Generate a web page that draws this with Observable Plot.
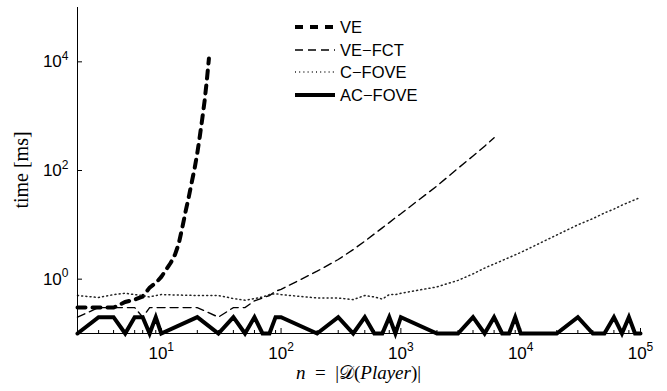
<!DOCTYPE html>
<html><head><meta charset="utf-8">
<script src="https://cdn.jsdelivr.net/npm/d3@7"></script>
<script src="https://cdn.jsdelivr.net/npm/@observablehq/plot@0.6"></script>
<style>body{margin:0;background:#fff;} #chart{width:667px;height:391px;}</style>
</head><body><div id="chart"></div>
<script>
// ---- data ----
const nGrid = [2,3,4,5,6,7,8,9,10,20,30,40,50,60,70,80,90,100,200,300,400,500,600,700,800,900,1000,
  2000,3000,4000,5000,6000,7000,8000,9000,10000,20000,30000,40000,50000,60000,70000,80000,90000,100000];
const veN = [2,3,4,5,6,7,8,9,10,11,12,13,14,15,16,17,18,19,20,21,22,23,24,25];
const veTime = [0.3,0.3,0.3,0.38,0.42,0.48,0.7,0.85,1.1,1.5,2.0,2.8,4.5,9,18,33,62,110,210,430,900,1900,4500,11500];
const veFctN = [2,3,4,5,6,7,8,9,10,20,30,40,50,60,70,80,90,100,200,300,400,500,600,700,800,900,1000,2000,3000,4000,5000,6000];
const veFctTime = [0.2,0.3,0.3,0.3,0.3,0.2,0.3,0.3,0.3,0.3,0.2,0.3,0.3,0.4,0.45,0.5,0.6,0.65,1.4,2.3,3.5,5,6.8,8.8,11,13.5,16,52,110,185,280,400];
const cFoveTime = [0.5,0.46,0.52,0.55,0.52,0.5,0.47,0.5,0.52,0.5,0.5,0.44,0.41,0.44,0.47,0.52,0.54,0.52,0.45,0.45,0.42,0.5,0.47,0.43,0.52,0.52,0.55,
  0.72,0.95,1.25,1.6,1.9,2.2,2.5,2.8,3.1,6.5,10,13,16.5,19.5,23,26,29,32];
const acFoveTime = [0.1,0.2,0.2,0.1,0.2,0.2,0.1,0.2,0.1,0.2,0.1,0.2,0.1,0.2,0.1,0.1,0.2,0.2,0.1,0.2,0.1,0.2,0.1,0.1,0.2,0.1,0.2,
  0.1,0.1,0.2,0.1,0.2,0.1,0.1,0.2,0.1,0.1,0.2,0.1,0.1,0.2,0.1,0.2,0.1,0.1];
const seriesNames = ["VE", "VE\u2212FCT", "C\u2212FOVE", "AC\u2212FOVE"];
const xMajorTicks = [10,100,1000,10000,100000];
const yMajorTicks = [1,100,10000];
const xDomain = [2, 100000];
const yDomain = [0.1, 100000];
const xLabelParts = ["n", "\u2002=\u2002|", "\u{1D49F}", "(", "Player", ")|"];
const yLabel = "time [ms]";

// ---- styles ----
const styles = [
  {stroke: "#000", strokeWidth: 4, strokeDasharray: "8,7"},
  {stroke: "#000", strokeWidth: 1.4, strokeDasharray: "8,5"},
  {stroke: "#222", strokeWidth: 1.5, strokeDasharray: "1,3.2"},
  {stroke: "#000", strokeWidth: 4, strokeDasharray: null}
];
const W = 667, H = 391, mT = 7, mR = 27, mB = 58, mL = 77;
const innerW = W - mL - mR, innerH = H - mT - mB;

const zipXY = (xs, ys) => xs.map((x, i) => ({x, y: ys[i]}));
const seriesData = [zipXY(veN, veTime), zipXY(veFctN, veFctTime), zipXY(nGrid, cFoveTime), zipXY(nGrid, acFoveTime)];

const xMinor = [];
for (let k = 0; k <= 4; k++) for (let m = 2; m <= 9; m++) {
  const v = m * Math.pow(10, k);
  if (v > xDomain[0] && v < xDomain[1]) xMinor.push(v);
}

const expFmt = d => String(Math.round(Math.log10(d)));

const svg = Plot.plot({
  width: W, height: H, marginTop: mT, marginRight: mR, marginBottom: mB, marginLeft: mL,
  style: {fontFamily: "'Liberation Sans', Arial, sans-serif", fontSize: "17px", color: "#000", background: "#fff", overflow: "visible"},
  x: {type: "log", domain: xDomain},
  y: {type: "log", domain: yDomain},
  marks: [
    Plot.axisX({ticks: xMajorTicks, tickSize: 0, tickPadding: 13, tickFormat: expFmt, label: null}),
    Plot.axisY({ticks: yMajorTicks, tickSize: 0, tickPadding: 9, tickFormat: expFmt, label: null}),
    Plot.tickX(xMinor, {x: d => d, stroke: "#000", strokeWidth: 1, insetTop: innerH - 3}),
    Plot.tickX(xMajorTicks, {x: d => d, stroke: "#000", strokeWidth: 1, insetTop: innerH - 5}),
    Plot.tickY(yMajorTicks, {y: d => d, stroke: "#000", strokeWidth: 1, insetRight: innerW - 5}),
    ...seriesData.map((data, i) => Plot.line(data, {x: "x", y: "y", ...styles[i], strokeLinejoin: "miter", strokeMiterlimit: 4})),
    Plot.ruleY([yDomain[0]], {stroke: "#000", strokeWidth: 1}),
    Plot.ruleX([xDomain[0]], {stroke: "#000", strokeWidth: 1})
  ]
});
document.getElementById("chart").appendChild(svg);

// superscript exponents on tick labels
const s = d3.select(svg);
s.selectAll('g[aria-label="x-axis tick label"] text, g[aria-label="y-axis tick label"] text').each(function() {
  const e = this.textContent;
  const t = d3.select(this);
  t.text("10");
  t.append("tspan").attr("dy", "-0.6em").attr("font-size", "12px").text(e);
});

// axis titles
const serif = "'Liberation Serif', 'DejaVu Serif', serif";
const xl = s.append("text").attr("x", mL + innerW / 2).attr("y", 379).attr("text-anchor", "middle")
  .attr("font-family", serif).attr("font-size", "19px").attr("fill", "#000");
xLabelParts.forEach((p, i) => {
  const ts = xl.append("tspan").text(p).attr("xml:space", "preserve");
  if (i === 0 || i === 4) ts.attr("font-style", "italic");
});
s.append("text").attr("transform", `translate(28,${mT + innerH / 2}) rotate(-90)`).attr("text-anchor", "middle")
  .attr("font-family", serif).attr("font-size", "20px").attr("fill", "#000").text(yLabel);

// legend
const lg = s.append("g");
const rowY = [27, 50, 72, 95];
seriesNames.forEach((name, i) => {
  const st = styles[i];
  lg.append("line").attr("x1", 295).attr("x2", 335).attr("y1", rowY[i]).attr("y2", rowY[i])
    .attr("stroke", st.stroke).attr("stroke-width", st.strokeWidth)
    .attr("stroke-dasharray", st.strokeDasharray);
  lg.append("text").attr("x", 340).attr("y", rowY[i]).attr("dy", "0.36em").attr("text-anchor", "start")
    .attr("font-size", "16.5px").attr("fill", "#000").text(name);
});
</script></body></html>
